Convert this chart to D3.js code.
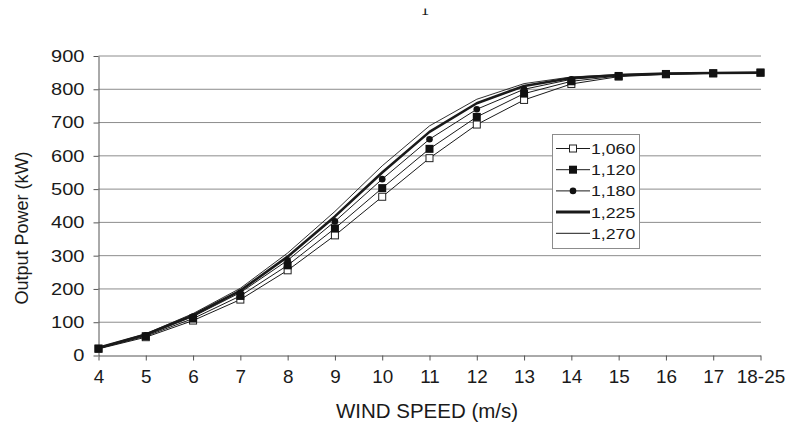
<!DOCTYPE html>
<html>
<head>
<meta charset="utf-8">
<script src="https://cdn.jsdelivr.net/npm/d3@7"></script>
<style>
  html, body { margin: 0; padding: 0; background: #fff; }
  svg { display: block; }
  text { font-family: "Liberation Sans", Arial, sans-serif; fill: #1a1a1a; }
</style>
</head>
<body>
<svg id="chart" width="787" height="425"></svg>
<script>
// ---- data ----
const categories = ["4","5","6","7","8","9","10","11","12","13","14","15","16","17","18-25"];
const yTicks = [0,100,200,300,400,500,600,700,800,900];
const seriesNames = ["1,060","1,120","1,180","1,225","1,270"];
const d1060 = [20, 55, 105, 168, 256, 361, 477, 593, 694, 768, 816, 838, 845, 848, 850];
const d1120 = [21, 58, 111, 179, 271, 382, 503, 621, 717, 787, 824, 840, 846, 848, 850];
const d1180 = [22, 61, 117, 189, 286, 403, 530, 650, 740, 800, 830, 842, 847, 849, 850];
const d1225 = [23, 63, 121, 195, 297, 418, 550, 672, 758, 810, 834, 843, 847, 849, 850];
const d1270 = [24, 65, 126, 202, 308, 433, 570, 690, 770, 817, 837, 844, 848, 850, 850];
const seriesValues = [d1060, d1120, d1180, d1225, d1270];
const markerTypes = ["openSquare","square","circle","none","none"];
const lineWidths = [1, 1, 1, 2.6, 0.9];
const xTitle = "WIND SPEED (m/s)";
const yTitle = "Output Power (kW)";

// ---- layout ----
const svg = d3.select("#chart");
const x = d3.scalePoint().domain(categories).range([98.5, 760.5]);
const y = d3.scaleLinear().domain([0, 900]).range([355.5, 56]);

// top artifact (cut-off character)
svg.append("clipPath").attr("id","topclip").append("rect")
  .attr("x", 410).attr("y", 8.5).attr("width", 30).attr("height", 8);
svg.append("text").attr("x", 425).attr("y", 15).attr("text-anchor","middle")
  .attr("clip-path","url(#topclip)")
  .style("font-family","Liberation Serif, serif").style("font-size","17px").text("1");

// gridlines
svg.append("g").selectAll("line").data(yTicks.filter(d => d > 0)).join("line")
  .attr("x1", 98.5).attr("x2", 761).attr("y1", d => y(d)).attr("y2", d => y(d))
  .attr("stroke", "#8c8c8c").attr("stroke-width", 1);

// y axis
const yAxis = svg.append("g").attr("transform", "translate(98.5,0)")
  .call(d3.axisLeft(y).tickValues(yTicks).tickSize(5).tickPadding(9).tickSizeOuter(0));
yAxis.select(".domain").attr("stroke", "#555");
yAxis.selectAll(".tick line").attr("stroke", "#555");
yAxis.selectAll(".tick text")
  .style("font-family", "Liberation Sans, Arial, sans-serif").style("font-size", "17px").attr("fill", "#1a1a1a")
  .attr("x", -14 / 1.18).attr("transform", "scale(1.18,1)");

// x axis
const xAxis = svg.append("g").attr("transform", "translate(0,355.5)")
  .call(d3.axisBottom(x).tickSize(5).tickPadding(10).tickSizeOuter(0));
xAxis.select(".domain").attr("stroke", "#555");
xAxis.selectAll(".tick line").attr("stroke", "#555");
xAxis.selectAll(".tick text")
  .style("font-family", "Liberation Sans, Arial, sans-serif").style("font-size", "18px").attr("fill", "#1a1a1a")
  .attr("transform", "scale(1.05,1)");

// axis titles
svg.append("text").attr("x", 427).attr("y", 418).attr("text-anchor", "middle")
  .style("font-size", "20.5px").text(xTitle);
svg.append("text").attr("transform", "translate(28,228) rotate(-90)").attr("text-anchor", "middle")
  .style("font-size", "18px").text(yTitle);

// series
const line = d3.line().x((d, i) => x(categories[i])).y(d => y(d));
function drawMarker(g, type, cx, cy) {
  if (type === "openSquare") {
    g.append("rect").attr("x", cx - 3.5).attr("y", cy - 3.5).attr("width", 7).attr("height", 7)
      .attr("fill", "#fff").attr("stroke", "#222").attr("stroke-width", 1);
  } else if (type === "square") {
    g.append("rect").attr("x", cx - 4).attr("y", cy - 4).attr("width", 8).attr("height", 8)
      .attr("fill", "#111");
  } else if (type === "circle") {
    g.append("circle").attr("cx", cx).attr("cy", cy).attr("r", 3.3).attr("fill", "#111");
  }
}
const lineG = svg.append("g");
seriesValues.forEach((vals, s) => {
  lineG.append("path").datum(vals).attr("d", line).attr("fill", "none")
    .attr("stroke", "#1a1a1a").attr("stroke-width", lineWidths[s]).attr("stroke-linejoin", "round");
});
const markG = svg.append("g");
seriesValues.forEach((vals, s) => {
  vals.forEach((v, i) => drawMarker(markG, markerTypes[s], x(categories[i]), y(v)));
});

// legend
const lg = svg.append("g");
lg.append("rect").attr("x", 552.5).attr("y", 134.5).attr("width", 87).attr("height", 114)
  .attr("fill", "#fff").attr("stroke", "#8c8c8c").attr("stroke-width", 1);
seriesNames.forEach((name, s) => {
  const ry = 148.5 + s * 21.2;
  lg.append("line").attr("x1", 556).attr("x2", 590).attr("y1", ry).attr("y2", ry)
    .attr("stroke", "#1a1a1a").attr("stroke-width", s === 3 ? 3 : 1);
  drawMarker(lg, markerTypes[s], 573, ry);
  lg.append("text").attr("x", 591 / 1.22).attr("y", ry + 5.5).attr("transform", "scale(1.22,1)")
    .style("font-size", "14.5px").text(name);
});
</script>
</body>
</html>
